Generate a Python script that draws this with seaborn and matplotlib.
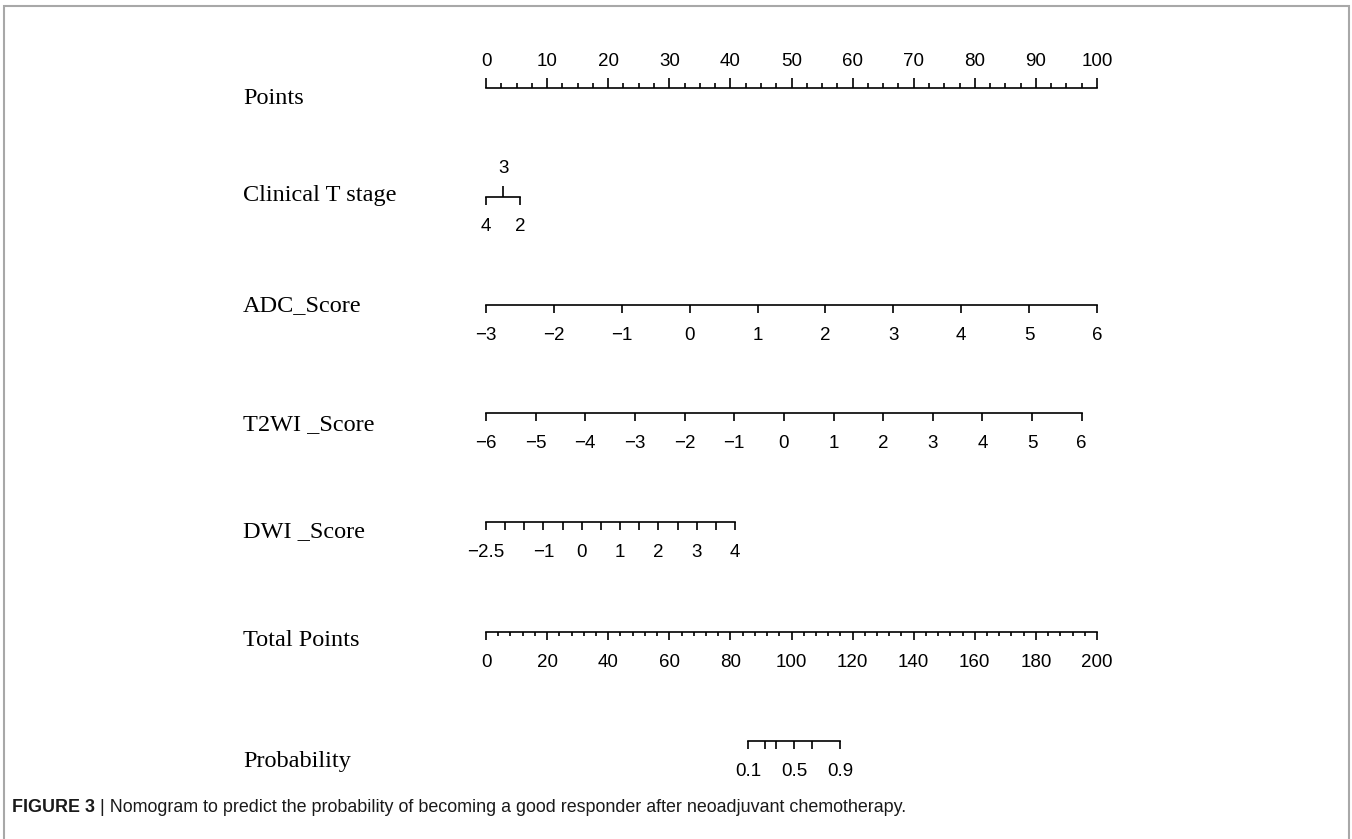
import numpy as np
import matplotlib.pyplot as plt
import matplotlib.patches as patches
import seaborn as sns

sns.set_theme(style="white")
plt.rcParams["font.family"] = ["Liberation Sans", "DejaVu Sans"]

# ---- nomogram data ----
row_names = ["Points", "Clinical T stage", "ADC_Score", "T2WI _Score",
             "DWI _Score", "Total Points", "Probability"]

points_major = [0, 10, 20, 30, 40, 50, 60, 70, 80, 90, 100]

t_stage_labels = ["4", "3", "2"]
t_stage_points = [0, 2.8, 5.6]

adc_values = [-3, -2, -1, 0, 1, 2, 3, 4, 5, 6]
adc_points = [0, 100]          # points at first / last value

t2wi_values = [-6, -5, -4, -3, -2, -1, 0, 1, 2, 3, 4, 5, 6]
t2wi_points = [0, 97.5]

dwi_values = [-2.5, -2, -1.5, -1, -0.5, 0, 0.5, 1, 1.5, 2, 2.5, 3, 3.5, 4]
dwi_labels = ["\u22122.5", "", "", "\u22121", "", "0", "", "1", "", "2", "", "3", "", "4"]
dwi_points = [0, 40.75]

total_major = [0, 20, 40, 60, 80, 100, 120, 140, 160, 180, 200]

prob_values = [0.1, 0.2, 0.3, 0.5, 0.7, 0.9]
prob_labels = ["0.1", "", "", "0.5", "", "0.9"]
prob_total_at = [85.8, 115.9]   # total points at p=0.1 and p=0.9

# ---- layout helpers (pixels of the 1352x839 canvas) ----
W, H = 1352, 839
X0, X1 = 486, 1097
LW = 1.2
TICK_FS = 13.5
fig = plt.figure(figsize=(W / 100, H / 100), dpi=100)


def fx(px):
    return px / W


def fy(py):
    return 1 - py / H


def make_row(y_px, xlim):
    ax = fig.add_axes([fx(X0), fy(y_px), fx(X1) - fx(X0), 1e-4])
    ax.patch.set_visible(False)
    ax.set_xlim(*xlim)
    ax.set_yticks([])
    for s in ax.spines.values():
        s.set_visible(False)
        s.set_color("black")
        s.set_linewidth(LW)
    return ax


def value_xlim(values, pts):
    # value range that covers 0..100 points
    v0, v1 = values[0], values[-1]
    slope = (v1 - v0) / (pts[1] - pts[0])
    return v0 - pts[0] * slope, v0 + (100 - pts[0]) * slope


def bottom_scale(ax, ticks, labels, minor=None, length=6):
    ax.spines["bottom"].set_visible(True)
    ax.spines["bottom"].set_bounds(ticks[0], ticks[-1])
    ax.set_xticks(ticks, labels)
    ax.tick_params(axis="x", which="major", bottom=True, top=False,
                   labelbottom=True, labeltop=False, direction="out",
                   length=length, width=LW, pad=10, labelsize=TICK_FS,
                   color="black", labelcolor="black")
    if minor is not None:
        ax.set_xticks(minor, minor=True)
        ax.tick_params(axis="x", which="minor", bottom=True, direction="out",
                       length=length / 2, width=LW, color="black")


row_y = [88, 197, 305, 413, 522, 632, 741]
label_y = [98, 196, 306, 425, 532, 641, 761]

# Points (ticks above the line)
ax = make_row(row_y[0], (0, 100))
ax.spines["top"].set_visible(True)
ax.spines["top"].set_bounds(0, 100)
ax.xaxis.set_ticks_position("top")
ax.set_xticks(points_major, [str(v) for v in points_major])
ax.set_xticks(np.arange(0, 100.1, 2.5), minor=True)
ax.tick_params(axis="x", which="major", top=True, bottom=False, labeltop=True,
               labelbottom=False, direction="out", length=7, width=LW, pad=6,
               labelsize=TICK_FS, color="black", labelcolor="black")
ax.tick_params(axis="x", which="minor", top=True, bottom=False,
               direction="out", length=3.5, width=LW, color="black")

# Clinical T stage
ax = make_row(row_y[1], (0, 100))
ax.spines["bottom"].set_visible(True)
ax.spines["bottom"].set_bounds(t_stage_points[0], t_stage_points[-1])
ax.set_xticks([t_stage_points[0], t_stage_points[2]],
              [t_stage_labels[0], t_stage_labels[2]])
ax.tick_params(axis="x", bottom=True, top=False, direction="out", length=6,
               width=LW, pad=9, labelsize=TICK_FS, color="black",
               labelcolor="black")
sec = ax.secondary_xaxis("top")
sec.set_xticks([t_stage_points[1]], [t_stage_labels[1]])
sec.spines["top"].set_visible(False)
sec.tick_params(axis="x", direction="out", length=8, width=LW, pad=6,
                labelsize=TICK_FS, color="black", labelcolor="black")

# ADC_Score
ax = make_row(row_y[2], value_xlim(adc_values, adc_points))
bottom_scale(ax, adc_values, [str(v).replace("-", "\u2212") for v in adc_values])

# T2WI _Score
ax = make_row(row_y[3], value_xlim(t2wi_values, t2wi_points))
bottom_scale(ax, t2wi_values, [str(v).replace("-", "\u2212") for v in t2wi_values])

# DWI _Score
ax = make_row(row_y[4], value_xlim(dwi_values, dwi_points))
bottom_scale(ax, dwi_values, dwi_labels)

# Total Points
ax = make_row(row_y[5], (0, 200))
bottom_scale(ax, total_major, [str(v) for v in total_major],
             minor=np.arange(0, 200.1, 4))

# Probability (logit is linear in total points)
lo_logit = np.log(prob_values[0] / (1 - prob_values[0]))
hi_logit = np.log(prob_values[-1] / (1 - prob_values[-1]))
slope = (hi_logit - lo_logit) / (prob_total_at[1] - prob_total_at[0])
prob_pos = [prob_total_at[0] + (np.log(p / (1 - p)) - lo_logit) / slope
            for p in prob_values]
ax = make_row(row_y[6], (0, 200))
bottom_scale(ax, prob_pos, prob_labels)

# row names
for name, y in zip(row_names, label_y):
    fig.text(fx(243), fy(y), name, ha="left", va="center",
             fontsize=17.5, family=["Liberation Serif", "DejaVu Serif"],
             color="black")

# frame
fig.add_artist(patches.Rectangle((fx(4), -0.05), fx(1349) - fx(4),
                                 fy(6) + 0.05, transform=fig.transFigure,
                                 fill=False, edgecolor="#a8a8a8", lw=1.5))

# caption
cap_font = ["Liberation Sans Narrow", "Liberation Sans", "DejaVu Sans"]
t1 = fig.text(fx(12), fy(808), "FIGURE 3", ha="left", va="center",
              fontsize=12.9, weight="bold", family=cap_font, color="#1a1a1a")
t2 = fig.text(0, 0, " | Nomogram to predict the probability of becoming a good "
              "responder after neoadjuvant chemotherapy.",
              fontsize=12.9, family=cap_font, color="#1a1a1a", ha="left",
              va="center")
fig.canvas.draw()
bb = t1.get_window_extent()
t2.set_position((bb.x1 / W, fy(808)))

fig.savefig("out.png", dpi=100)
